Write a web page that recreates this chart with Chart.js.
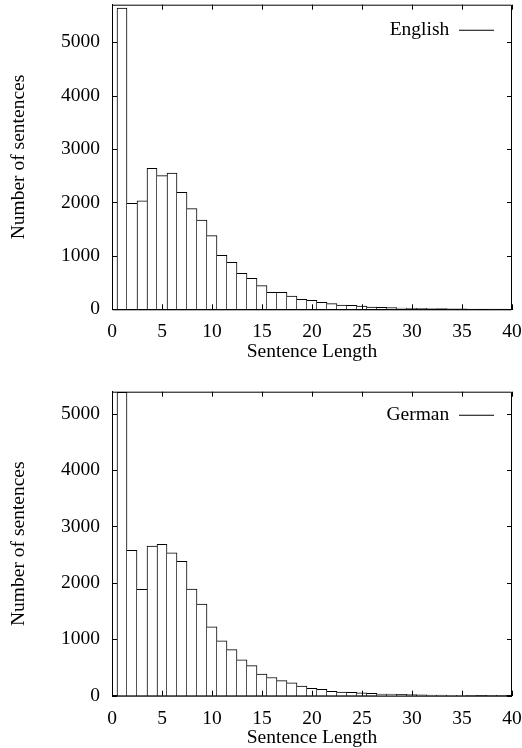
<!DOCTYPE html>
<html>
<head>
<meta charset="utf-8">
<script src="https://cdn.jsdelivr.net/npm/chart.js@4"></script>
<style>
  html, body { margin: 0; padding: 0; background: #fff; }
  body { width: 522px; height: 748px; position: relative; overflow: hidden; }
  .box { position: absolute; left: 0; width: 522px; height: 374px; }
  #b1 { top: 0; }
  #b2 { top: 374px; }
</style>
</head>
<body>
<div class="box" id="b1"><canvas id="c1" width="522" height="374"></canvas></div>
<div class="box" id="b2"><canvas id="c2" width="522" height="374"></canvas></div>
<script>
// ---- data ----
const sentenceLengths = [1,2,3,4,5,6,7,8,9,10,11,12,13,14,15,16,17,18,19,20,21,22,23,24,25,26,27,28,29,30,31,32,33,34,35,36,37,38,39];
const englishCounts = [5635,1985,2030,2640,2500,2550,2190,1885,1670,1378,1011,880,674,580,442,318,318,249,187,170,131,105,80,75,62,43,37,30,25,20,17,14,12,9,7,5,4,3,3];
const germanCounts  = [5380,2578,1887,2654,2684,2535,2383,1892,1626,1223,975,816,638,532,385,322,266,230,172,131,113,78,66,60,53,42,30,30,24,18,14,11,9,7,5,4,3,2,2];
const xTickValues = [0,5,10,15,20,25,30,35,40];
const yTickValues = [0,1000,2000,3000,4000,5000];
const englishYMax = 5700;
const germanYMax = 5390;
const englishLabel = 'English';
const germanLabel = 'German';
const xTitle = 'Sentence Length';
const yTitle = 'Number of sentences';

const FONT = 'Liberation Serif, Times New Roman, serif';
const FS = 19.5;

// inward ticks + top/right border, like gnuplot
const frame = {
  id: 'frame',
  afterDraw(chart) {
    const {ctx, chartArea: a, scales: {x, y}} = chart;
    const L = 5;
    ctx.save();
    ctx.strokeStyle = '#000';
    ctx.lineWidth = 1;
    ctx.beginPath();
    ctx.rect(a.left + 0.5, a.top + 0.5, a.right - a.left - 1, a.bottom - a.top);
    x.ticks.forEach(t => {
      const px = Math.round(x.getPixelForValue(t.value)) + 0.5;
      ctx.moveTo(px, a.bottom); ctx.lineTo(px, a.bottom - L);
      ctx.moveTo(px, a.top); ctx.lineTo(px, a.top + L);
    });
    y.ticks.forEach(t => {
      const py = Math.round(y.getPixelForValue(t.value)) + 0.5;
      ctx.moveTo(a.left, py); ctx.lineTo(a.left + L, py);
      ctx.moveTo(a.right, py); ctx.lineTo(a.right - L, py);
    });
    ctx.stroke();
    ctx.restore();
  }
};

function makeLegendPlugin(lineRight, legendTop) {
  return {
    id: 'legendPlace',
    afterLayout(chart) {
      const lg = chart.legend;
      if (!lg) return;
      const w = lg.width, h = lg.height;
      lg.left = lineRight + 10 - w;
      lg.right = lg.left + w;
      lg.top = legendTop;
      lg.bottom = lg.top + h;
    }
  };
}

// each shared edge between neighbouring bars is drawn once, by the taller bar
function barBorder(c) {
  const d = c.dataset.data, i = c.dataIndex;
  const left = (i === 0 || d[i] > d[i - 1]) ? 1 : 0;
  const right = (i === d.length - 1 || d[i] >= d[i + 1]) ? 1 : 0;
  return { left, right, top: 1, bottom: 0 };
}

function makeChart(canvasId, label, values, yMax, geom) {
  const ctx = document.getElementById(canvasId);
  return new Chart(ctx, {
    type: 'bar',
    data: {
      labels: sentenceLengths,
      datasets: [{
        label: label,
        data: values,
        backgroundColor: '#ffffff',
        borderColor: '#000000',
        borderWidth: barBorder,
        borderSkipped: false,
        barPercentage: 1,
        categoryPercentage: 1
      }]
    },
    options: {
      responsive: false,
      animation: false,
      events: [],
      devicePixelRatio: 1,
      layout: { padding: { left: 0, right: 522 - geom.right, top: geom.top, bottom: 0 } },
      plugins: {
        tooltip: { enabled: false },
        legend: {
          display: true,
          position: 'chartArea',
          align: 'start',
          rtl: true,
          labels: {
            usePointStyle: true,
            pointStyle: 'line',
            pointStyleWidth: 35,
            color: '#000',
            font: { family: FONT, size: FS },
            generateLabels(chart) {
              const items = Chart.defaults.plugins.legend.labels.generateLabels(chart);
              items.forEach(it => { it.lineWidth = 1; it.strokeStyle = '#000'; it.pointStyle = 'line'; });
              return items;
            }
          }
        }
      },
      scales: {
        x: {
          type: 'linear',
          min: 0, max: 40,
          offset: false,
          grid: { display: false },
          border: { display: true, color: '#000', width: 1 },
          afterBuildTicks(s) { s.ticks = xTickValues.map(v => ({value: v})); },
          ticks: { color: '#000', font: { family: FONT, size: FS }, padding: geom.xTickPad, maxRotation: 0, autoSkip: false,
                   callback: (v) => String(v) },
          title: { display: true, text: xTitle, color: '#000', font: { family: FONT, size: FS }, padding: { top: 0, bottom: geom.xTitlePad } },
          afterFit(s) { s.height = 374 - geom.bottom; s.paddingLeft = 0; s.paddingRight = 0; }
        },
        y: {
          min: 0, max: yMax,
          grid: { display: false },
          border: { display: true, color: '#000', width: 1 },
          afterBuildTicks(s) { s.ticks = yTickValues.map(v => ({value: v})); },
          ticks: { color: '#000', font: { family: FONT, size: FS }, padding: 4, autoSkip: false,
                   callback: (v) => String(v) },
          title: { display: true, text: yTitle, color: '#000', font: { family: FONT, size: FS }, padding: { top: 7, bottom: 0 } },
          afterFit(s) { s.width = geom.left; s.paddingTop = 0; s.paddingBottom = 0; }
        }
      }
    },
    plugins: [frame, makeLegendPlugin(494, geom.legendTop)]
  });
}

makeChart('c1', englishLabel, englishCounts, englishYMax,
  { left: 112, right: 512, top: 4.7, bottom: 309.3, xTickPad: 3, xTitlePad: 10.6, legendTop: 10.5 });
makeChart('c2', germanLabel, germanCounts, germanYMax,
  { left: 112, right: 512, top: 17.7, bottom: 321.7, xTickPad: 3, xTitlePad: -2, legendTop: 21.5 });
</script>
</body>
</html>
